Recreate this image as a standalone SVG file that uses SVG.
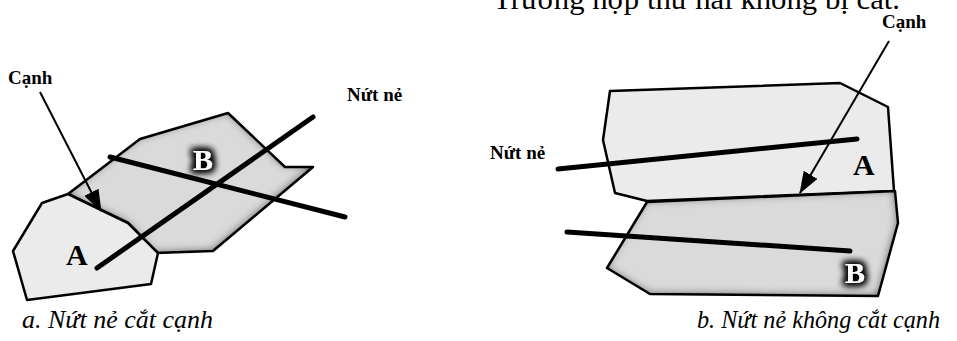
<svg xmlns="http://www.w3.org/2000/svg" width="957" height="341" viewBox="0 0 957 341">
  <style>
    .edge { stroke: #000; stroke-width: 2.5; stroke-linejoin: round; fill: none; }
    .light { fill: #ebebeb; }
    .mid { fill: #dadada; }
    .crack { stroke: #000; stroke-width: 5; stroke-linecap: round; fill: none; }
    .ptr { stroke: #000; stroke-width: 2; fill: none; }
    .lbl { font-family: "Liberation Serif", "Times New Roman", serif; font-weight: bold; font-size: 19px; fill: #000; }
    .big { font-family: "Liberation Serif", "Times New Roman", serif; font-weight: bold; font-size: 30px; fill: #000; }
    .bigw { font-family: "Liberation Serif", "Times New Roman", serif; font-weight: bold; font-size: 30px; fill: #fff; }
    .cap { font-family: "Liberation Serif", "Times New Roman", serif; font-style: italic; font-size: 26px; fill: #000; }
    .head { font-family: "Liberation Serif", "Times New Roman", serif; font-size: 30px; fill: #000; }
  </style>
  <defs>
    <!-- soft shading along the inside of the darker cells -->
    <filter id="inset" x="-10%" y="-10%" width="120%" height="120%">
      <feComponentTransfer in="SourceAlpha" result="inv">
        <feFuncA type="table" tableValues="1 0"/>
      </feComponentTransfer>
      <feOffset in="inv" dx="-1.5" dy="-1.5" result="off"/>
      <feGaussianBlur in="off" stdDeviation="4" result="blur"/>
      <feFlood flood-color="#111" flood-opacity="1"/>
      <feComposite operator="in" in2="blur" result="shade"/>
      <feComposite in="shade" in2="SourceAlpha" operator="in" result="inner"/>
      <feMerge>
        <feMergeNode in="SourceGraphic"/>
        <feMergeNode in="inner"/>
      </feMerge>
    </filter>
    <!-- dark halo behind the white cell letters -->
    <filter id="halo" x="-60%" y="-60%" width="220%" height="220%">
      <feMorphology in="SourceAlpha" operator="dilate" radius="1.5" result="fat"/>
      <feGaussianBlur in="fat" stdDeviation="3.5" result="blur"/>
      <feFlood flood-color="#000" flood-opacity="1"/>
      <feComposite operator="in" in2="blur" result="glow"/>
      <feMerge>
        <feMergeNode in="glow"/>
        <feMergeNode in="glow"/>
        <feMergeNode in="SourceGraphic"/>
      </feMerge>
    </filter>
    <marker id="tip" markerUnits="userSpaceOnUse" markerWidth="22" markerHeight="16" refX="21" refY="8" orient="auto">
      <path d="M0,0 L22,8 L0,16 Z" fill="#000"/>
    </marker>
  </defs>

  <!-- heading line, cut off by the top edge -->
  <text class="head" x="493" y="9" textLength="407" lengthAdjust="spacingAndGlyphs">Trường hợp thứ hai không bị cắt.</text>

  <!-- case a: crack crosses the shared edge -->
  <g id="a-cell-B">
    <polygon class="mid" filter="url(#inset)" points="68,194 140,139 228,113 285,167 313,167 213,251 155,253 137,232 128,223"/>
    <polygon class="edge" points="68,194 140,139 228,113 285,167 313,167 213,251 155,253 137,232 128,223"/>
  </g>
  <g id="a-cell-A">
    <polygon class="light edge" points="42,203 68,194 128,223 158,253 151,284 27,300 13,251"/>
  </g>

  <!-- case b: crack stays inside each cell -->
  <g id="b-cell-A">
    <polygon class="light edge" points="610,91 840,83 888,107 894,191 647,201 615,193 603,140"/>
  </g>
  <g id="b-cell-B">
    <polygon class="mid" filter="url(#inset)" points="647,202 895,191 898,223 878,296 650,294 607,268"/>
    <polygon class="edge" points="647,202 895,191 898,223 878,296 650,294 607,268"/>
  </g>

  <g id="connectors">
    <line class="crack" x1="97" y1="268" x2="313" y2="117"/>
    <line class="crack" x1="110" y1="157" x2="345" y2="217"/>
    <line class="crack" x1="558" y1="169" x2="857" y2="139"/>
    <line class="crack" x1="567" y1="232" x2="850" y2="251"/>
    <line class="ptr" x1="40" y1="92" x2="101" y2="211" marker-end="url(#tip)"/>
    <line class="ptr" x1="889" y1="41" x2="800" y2="193" marker-end="url(#tip)"/>
  </g>

  <g id="labels">
    <text class="lbl" x="8" y="84">Cạnh</text>
    <text class="lbl" x="347" y="101">Nứt nẻ</text>
    <text class="lbl" x="490" y="159">Nứt nẻ</text>
    <text class="lbl" x="882" y="28">Cạnh</text>
    <text class="big" x="66" y="265">A</text>
    <text class="bigw" filter="url(#halo)" x="193" y="170">B</text>
    <text class="big" x="853" y="175">A</text>
    <text class="bigw" filter="url(#halo)" x="845" y="283">B</text>
  </g>

  <g id="captions">
    <text class="cap" x="22" y="328" textLength="191" lengthAdjust="spacingAndGlyphs">a. Nứt nẻ cắt cạnh</text>
    <text class="cap" x="697" y="328" textLength="243" lengthAdjust="spacingAndGlyphs">b. Nứt nẻ không cắt cạnh</text>
  </g>
</svg>
